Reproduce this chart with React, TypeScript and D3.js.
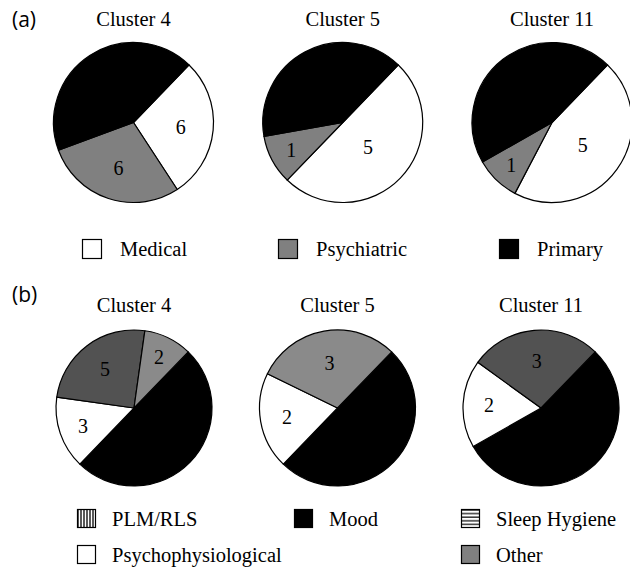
import React from 'react';
import * as d3 from 'd3';

const width = 630;
const height = 581;

const clusters = ['Cluster 4', 'Cluster 5', 'Cluster 11'];

// (a) diagnosis, clockwise slice order
const diagCategories = ['Medical', 'Psychiatric', 'Primary'];
const diagCluster4 = [6, 6, 9];
const diagCluster5 = [5, 1, 4];
const diagCluster11 = [5, 1, 5];

// (b) insomnia subtypes, clockwise slice order
const subCategories = ['Mood', 'Psychophysiological', 'Sleep Hygiene', 'Other', 'PLM/RLS'];
const subCluster4 = [10, 3, 5, 2, 0];
const subCluster5 = [5, 2, 0, 3, 0];
const subCluster11 = [6, 2, 3, 0, 0];

const diagLegend = ['Medical', 'Psychiatric', 'Primary'];
const subLegendRows = [
  ['PLM/RLS', 'Mood', 'Sleep Hygiene'],
  ['Psychophysiological', null, 'Other'],
];

const diagColors: Record<string, string> = { Medical: '#ffffff', Psychiatric: '#808080', Primary: '#000000' };
const subColors: Record<string, string> = {
  Mood: '#000000',
  Psychophysiological: '#ffffff',
  'Sleep Hygiene': '#525252',
  Other: '#8a8a8a',
  'PLM/RLS': '#6a6a6a',
};
const subSwatch: Record<string, string> = {
  'PLM/RLS': 'url(#vstripes)',
  Mood: '#000000',
  'Sleep Hygiene': 'url(#hstripes)',
  Psychophysiological: '#ffffff',
  Other: '#808080',
};

const serif = '"Liberation Serif", "Times New Roman", serif';
const sans = '"Open Sans", "DejaVu Sans", sans-serif';

const startAngle = (44 * Math.PI) / 180;

type Item = { name: string; value: number };

function Pie({ cx, cy, r, items, colors }: { cx: number; cy: number; r: number; items: Item[]; colors: Record<string, string> }) {
  const slices = d3.pie<Item>().sort(null).value(d => d.value)
    .startAngle(startAngle).endAngle(startAngle + 2 * Math.PI)(items)
    .filter(s => s.data.value > 0);
  const arcGen = d3.arc<d3.PieArcDatum<Item>>().innerRadius(0).outerRadius(r);
  return (
    <g transform={`translate(${cx},${cy})`}>
      {slices.map(s => (
        <path key={s.data.name} d={arcGen(s) || ''} fill={colors[s.data.name]} stroke="#000" strokeWidth={1.2} strokeLinejoin="round" />
      ))}
      {slices.filter(s => colors[s.data.name] !== '#000000').map(s => {
        // narrow slices get their number further out
        const span = ((s.endAngle - s.startAngle) * 180) / Math.PI;
        const k = Math.max(0.42, 0.8 - 0.002 * span);
        const mid = (s.startAngle + s.endAngle) / 2;
        const x = Math.sin(mid) * r * k;
        const y = -Math.cos(mid) * r * k;
        return (
          <text key={'l' + s.data.name} x={x} y={y} dy="0.35em" textAnchor="middle" fontFamily={serif} fontSize={20} fill="#000">
            {s.data.value}
          </text>
        );
      })}
    </g>
  );
}

export default function App() {
  const diagData = [diagCluster4, diagCluster5, diagCluster11];
  const subData = [subCluster4, subCluster5, subCluster11];

  const xA = d3.scalePoint<string>().domain(clusters).range([133.5, 552]);
  const xB = d3.scalePoint<string>().domain(clusters).range([134, 541]);
  const rA = 80;
  const rB = 78;
  const cyA = 122.5;
  const cyB = 408;

  const legendAX = d3.scaleOrdinal<string, number>().domain(diagLegend).range([82, 278, 499]);
  const legendBX = d3.scaleOrdinal<number, number>().domain([0, 1, 2]).range([77, 294, 461]);

  return (
    <svg width={width} height={height} style={{ position: 'absolute', left: 0, top: 0, background: '#fff' }}>
      <defs>
        <pattern id="vstripes" width={3} height={4} patternUnits="userSpaceOnUse">
          <rect width={3} height={4} fill="#fff" />
          <line x1={1} y1={0} x2={1} y2={4} stroke="#000" strokeWidth={1.3} />
        </pattern>
        <pattern id="hstripes" width={4} height={3.6} patternUnits="userSpaceOnUse">
          <rect width={4} height={3.6} fill="#fff" />
          <line x1={0} y1={1} x2={4} y2={1} stroke="#000" strokeWidth={1.2} />
        </pattern>
      </defs>

      {/* panel (a) */}
      <text x={12} y={27} fontFamily={sans} fontSize={21} fill="#000">(a)</text>
      {clusters.map((c, i) => (
        <g key={'a' + c}>
          <text x={xA(c)} y={26} textAnchor="middle" fontFamily={serif} fontSize={20.5}>{c}</text>
          <Pie cx={xA(c)!} cy={cyA} r={rA} colors={diagColors}
            items={diagCategories.map((name, j) => ({ name, value: diagData[i][j] }))} />
        </g>
      ))}
      {diagLegend.map(name => (
        <g key={'la' + name} transform={`translate(${legendAX(name)},239)`}>
          <rect x={0.5} y={0.5} width={19} height={19} fill={diagColors[name]} stroke="#000" strokeWidth={1.2} />
          <text x={38} y={17} fontFamily={serif} fontSize={20.5}>{name}</text>
        </g>
      ))}

      {/* panel (b) */}
      <text x={12} y={302} fontFamily={sans} fontSize={21} fill="#000">(b)</text>
      {clusters.map((c, i) => (
        <g key={'b' + c}>
          <text x={xB(c)} y={312} textAnchor="middle" fontFamily={serif} fontSize={20.5}>{c}</text>
          <Pie cx={xB(c)!} cy={cyB} r={rB} colors={subColors}
            items={subCategories.map((name, j) => ({ name, value: subData[i][j] }))} />
        </g>
      ))}
      {subLegendRows.map((row, ri) => row.map((name, ci) => name && (
        <g key={'lb' + name} transform={`translate(${legendBX(ci)},${509 + ri * 36})`}>
          <rect x={0.5} y={0.5} width={18} height={18} fill={subSwatch[name]} stroke="#000" strokeWidth={1.2} />
          <text x={35} y={17} fontFamily={serif} fontSize={20.5}>{name}</text>
        </g>
      )))}
    </svg>
  );
}
